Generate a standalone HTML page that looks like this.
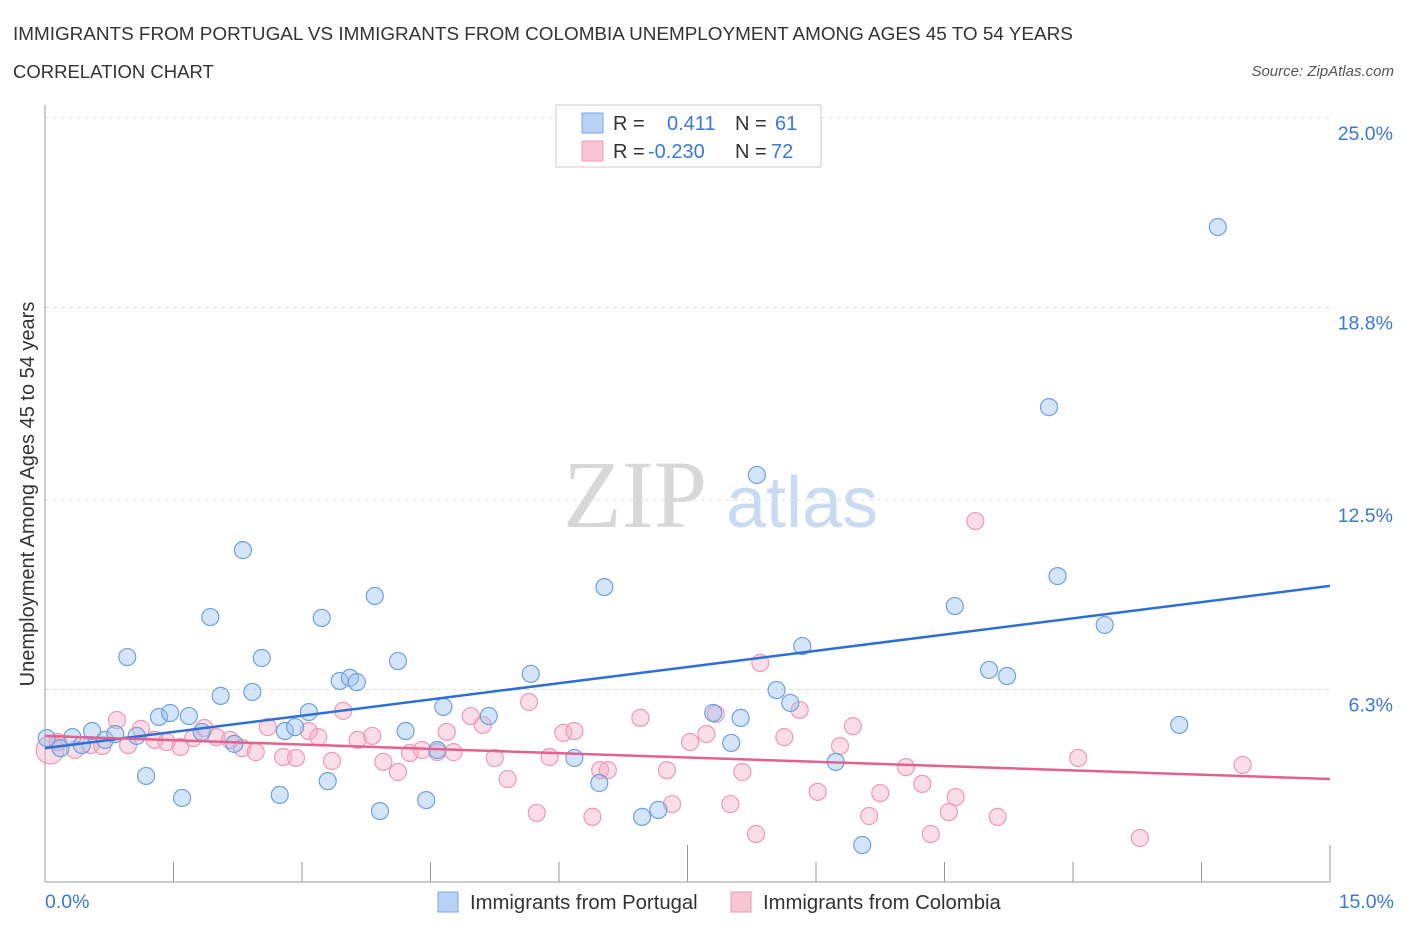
<!DOCTYPE html>
<html><head><meta charset="utf-8"><style>
body{margin:0;background:#fff;font-family:"Liberation Sans",sans-serif}
#c{position:relative;width:1406px;height:930px;overflow:hidden}
</style></head><body>
<div id="c">
<svg id="s" width="1406" height="930" xmlns="http://www.w3.org/2000/svg" font-family="Liberation Sans, sans-serif">
<text x="13" y="40" font-size="18.9" fill="#333">IMMIGRANTS FROM PORTUGAL VS IMMIGRANTS FROM COLOMBIA UNEMPLOYMENT AMONG AGES 45 TO 54 YEARS</text>
<text x="13" y="78" font-size="18.5" fill="#333">CORRELATION CHART</text>
<text x="1394" y="76" font-size="15" fill="#555" font-style="italic" text-anchor="end">Source: ZipAtlas.com</text>
<text x="635" y="527" font-size="96" fill="#d8d8d8" font-family="Liberation Serif, serif" text-anchor="middle">ZIP</text>
<text x="802" y="527" font-size="72" fill="#c9dbf2" text-anchor="middle">atlas</text>
<text transform="translate(34,494) rotate(-90)" font-size="20" fill="#333" text-anchor="middle">Unemployment Among Ages 45 to 54 years</text>
<g id="grid"></g><g id="marks"></g>
<g>
<rect x="556" y="105" width="265" height="62" fill="#fff" stroke="#ccc"/>
<rect x="582" y="113" width="21" height="20" fill="#b8d2f5" stroke="#7aa8e6"/>
<rect x="582" y="141" width="21" height="20" fill="#f8c5d4" stroke="#ec9ab4"/>
<text x="613" y="130" font-size="20" fill="#333">R =</text><text x="667" y="130" font-size="20" fill="#3b78d8">0.411</text>
<text x="735" y="130" font-size="20" fill="#333">N =</text><text x="775" y="130" font-size="20" fill="#3b78d8">61</text>
<text x="613" y="158" font-size="20" fill="#333">R =</text><text x="648" y="158" font-size="20" fill="#3b78d8">-0.230</text>
<text x="735" y="158" font-size="20" fill="#333">N =</text><text x="771" y="158" font-size="20" fill="#3b78d8">72</text>
</g>
<g>
<rect x="438" y="892" width="20" height="20" fill="#b8d2f5" stroke="#7aa8e6"/>
<text x="470" y="909" font-size="20.3" fill="#333">Immigrants from Portugal</text>
<rect x="731" y="892" width="20" height="20" fill="#f8c5d4" stroke="#ec9ab4"/>
<text x="763" y="909" font-size="20.3" fill="#333">Immigrants from Colombia</text>
</g>
</svg></div>
<script>
const yTicks=[25.0,18.8,12.5,6.3];
const xTickLabels=["0.0%","15.0%"];
const bx=[0.02,0.18,0.32,0.43,0.55,0.70,0.82,0.96,1.07,1.18,1.33,1.46,1.60,1.68,1.83,1.93,2.05,2.21,2.31,2.42,2.53,2.74,2.80,2.92,3.08,3.23,3.30,3.44,3.56,3.64,3.85,3.91,4.12,4.21,4.45,4.58,4.65,5.18,5.67,6.18,6.47,6.53,6.97,7.16,7.80,8.01,8.12,8.31,8.54,8.70,8.84,9.23,9.54,10.62,11.02,11.23,11.72,11.82,12.37,13.24,13.69];
const by=[4.71,4.38,4.74,4.48,4.94,4.65,4.84,7.36,4.78,3.47,5.40,5.53,2.75,5.43,4.91,8.67,6.09,4.52,10.86,6.22,7.33,2.85,4.94,5.07,5.56,8.64,3.30,6.58,6.68,6.54,9.36,2.32,7.23,4.94,2.68,4.32,5.73,5.43,6.81,4.06,3.24,9.65,2.13,2.36,5.53,4.55,5.37,13.32,6.28,5.86,7.72,3.93,1.21,9.03,6.94,6.74,15.54,10.01,8.41,5.14,21.43];
const px=[0.06,0.15,0.35,0.53,0.67,0.84,0.97,1.12,1.28,1.42,1.58,1.73,1.86,2.00,2.16,2.30,2.46,2.60,2.78,2.93,3.08,3.19,3.35,3.48,3.65,3.82,3.95,4.12,4.26,4.40,4.58,4.69,4.77,4.97,5.11,5.25,5.40,5.65,5.74,5.89,6.05,6.18,6.39,6.48,6.57,6.95,7.26,7.32,7.53,7.72,7.83,8.00,8.14,8.30,8.35,8.63,8.81,9.02,9.28,9.43,9.62,9.75,10.05,10.24,10.34,10.55,10.63,10.86,11.12,12.06,12.78,13.98];
const py=[4.32,4.58,4.32,4.48,4.45,5.30,4.48,5.01,4.65,4.58,4.42,4.71,5.04,4.74,4.65,4.38,4.25,5.07,4.09,4.06,4.94,4.74,3.96,5.60,4.65,4.78,3.93,3.60,4.22,4.32,4.25,4.91,4.25,5.43,5.14,4.06,3.37,5.89,2.26,4.09,4.88,4.94,2.13,3.66,3.66,5.37,3.66,2.55,4.58,4.84,5.50,2.55,3.60,1.57,7.17,4.74,5.63,2.95,4.45,5.10,2.16,2.91,3.76,3.21,1.57,2.29,2.78,11.81,2.13,4.06,1.44,3.83];
const blueTrend=[4.38,9.69];
const pinkTrend=[4.78,3.37];
const NS="http://www.w3.org/2000/svg";
const X=v=>45+v/15*1285, Y=v=>882-v/25*764;
function mk(t,a,p){const e=document.createElementNS(NS,t);for(const k in a)e.setAttribute(k,a[k]);p.appendChild(e);return e;}
const g=document.getElementById('grid'),m=document.getElementById('marks');
yTicks.forEach(t=>{const l=mk('line',{x1:45,x2:1330,y1:Y(t),y2:Y(t),stroke:'#ddd','stroke-dasharray':'4,4'},g);


const tx=mk('text',{x:1393,y:Y(t)+22,'font-size':19.5,fill:'#3b78d8','text-anchor':'end'},g);tx.textContent=t.toFixed(1)+'%';

});
const ax=mk('line',{x1:45,x2:45,y1:105,y2:882,stroke:'#999'},g);


const axx=mk('line',{x1:45,x2:1330,y1:882,y2:882,stroke:'#999'},g);


for(let i=0;i<=10;i++){const t=mk('line',{x1:X(i*1.5),x2:X(i*1.5),y1:(i%5==0?845:862),y2:882,stroke:'#999'},g);

}
[[45,'start',0],[1394,'end',1]].forEach(([x,a,i])=>{const t=mk('text',{x:x,y:908,'font-size':19.5,fill:'#3b78d8','text-anchor':a},g);t.textContent=xTickLabels[i];

});
px.forEach((v,i)=>{const c=mk('circle',{cx:X(v),cy:Y(py[i]),r:i==0?14:8.5,fill:'rgba(245,170,195,0.4)',stroke:'#ec9ab4','stroke-width':1.2},m);

});
bx.forEach((v,i)=>{const c=mk('circle',{cx:X(v),cy:Y(by[i]),r:8.5,fill:'rgba(150,190,240,0.4)',stroke:'#6fa0e0','stroke-width':1.2},m);

});
const bl=mk('line',{x1:X(0),y1:Y(blueTrend[0]),x2:X(15),y2:Y(blueTrend[1]),stroke:'#2e6fd6','stroke-width':2.5},m);


const pl=mk('line',{x1:X(0),y1:Y(pinkTrend[0]),x2:X(15),y2:Y(pinkTrend[1]),stroke:'#e4618f','stroke-width':2.5},m);


</script>
</body></html>
